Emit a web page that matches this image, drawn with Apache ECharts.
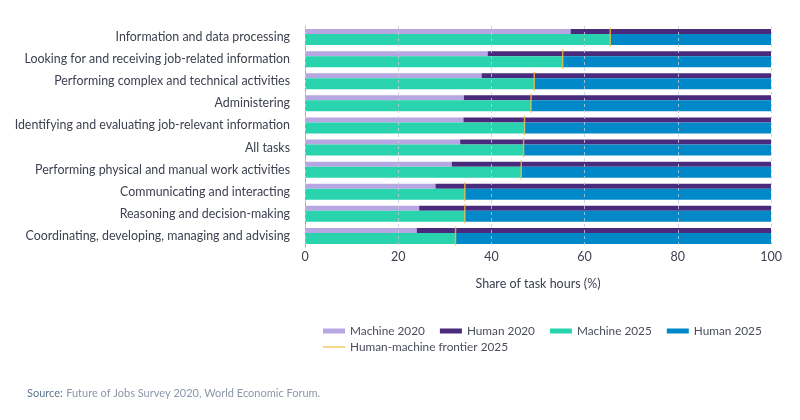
<!DOCTYPE html>
<html>
<head>
<meta charset="utf-8">
<script src="https://cdn.jsdelivr.net/npm/echarts@6/dist/echarts.min.js"></script>
<style>html,body{margin:0;padding:0;background:#fff}#c{width:800px;height:420px}</style>
</head>
<body>
<div id="c"></div>
<script>
const categories = [
  "Information and data processing",
  "Looking for and receiving job-related information",
  "Performing complex and technical activities",
  "Administering",
  "Identifying and evaluating job-relevant information",
  "All tasks",
  "Performing physical and manual work activities",
  "Communicating and interacting",
  "Reasoning and decision-making",
  "Coordinating, developing, managing and advising"
];
const machine2020 = [57.0, 39.2, 37.9, 34.1, 34.0, 33.3, 31.5, 28.0, 24.5, 24.0];
const human2020   = [43.0, 60.8, 62.1, 65.9, 66.0, 66.7, 68.5, 72.0, 75.5, 76.0];
const machine2025 = [65.5, 55.3, 49.2, 48.5, 47.1, 46.9, 46.4, 34.3, 34.3, 32.3];
const human2025   = [34.5, 44.7, 50.8, 51.5, 52.9, 53.1, 53.6, 65.7, 65.7, 67.7];
const frontier2025 = [65.5, 55.3, 49.2, 48.5, 47.1, 46.9, 46.4, 34.3, 34.3, 32.3];
const xTicks = [0, 20, 40, 60, 80, 100];

const FONT = 'Lato';
const chart = echarts.init(document.getElementById('c'), null, {renderer: 'canvas'});
chart.setOption({
  animation: false,
  textStyle: {fontFamily: FONT},
  grid: {left: 305, right: 29, top: 26, bottom: 173},
  xAxis: {
    type: 'value', min: xTicks[0], max: xTicks[xTicks.length - 1], interval: 20,
    z: 5,
    axisLine: {show: false}, axisTick: {show: false},
    splitLine: {show: true, lineStyle: {color: '#c8ccd4', type: [3, 3], width: 1, opacity: 0.8}},
    axisLabel: {color: '#3d4150', fontSize: 12.5, fontFamily: FONT, margin: 3},
    name: 'Share of task hours (%)', nameLocation: 'middle', nameGap: 30,
    nameTextStyle: {color: '#3d4150', fontSize: 12.5, fontFamily: FONT}
  },
  yAxis: {
    type: 'category', data: categories, inverse: true,
    axisLine: {show: true, lineStyle: {color: '#a0a4ac', width: 1}},
    axisTick: {show: false},
    axisLabel: {color: '#3d4150', fontSize: 12.4, fontFamily: FONT, margin: 15}
  },
  legend: [{
    left: 318, top: 320, itemWidth: 22, itemHeight: 5, itemGap: 15,
    icon: 'rect',
    textStyle: {color: '#4a4e5c', fontSize: 11.8, fontFamily: FONT},
    data: ['Machine 2020', 'Human 2020', 'Machine 2025', 'Human 2025']
  }, {
    left: 318, top: 336, itemWidth: 22, itemHeight: 1.5,
    icon: 'rect',
    textStyle: {color: '#4a4e5c', fontSize: 11.8, fontFamily: FONT},
    data: ['Human-machine frontier 2025']
  }],
  series: [
    {name: 'Machine 2020', type: 'bar', stack: 'y2020', barWidth: 5, barGap: '0%',
     itemStyle: {color: '#b6a6e2'}, data: machine2020},
    {name: 'Human 2020', type: 'bar', stack: 'y2020', barWidth: 5, barGap: '0%',
     itemStyle: {color: '#4a2a7c'}, data: human2020},
    {name: 'Machine 2025', type: 'bar', stack: 'y2025', barWidth: 11, barGap: '0%',
     itemStyle: {color: '#28d3ae'}, data: machine2025},
    {name: 'Human 2025', type: 'bar', stack: 'y2025', barWidth: 11, barGap: '0%',
     itemStyle: {color: '#0088c8'}, data: human2025},
    {name: 'Human-machine frontier 2025', type: 'scatter', symbol: 'rect', symbolSize: [1.5, 19],
     z: 10, itemStyle: {color: '#f2bd3c'},
     data: frontier2025.map((v, i) => [v, categories[i]])}
  ],
  graphic: [{
    type: 'text', left: 27, top: 387,
    style: {
      text: '{a|Source:} {b|Future of Jobs Survey 2020, World Economic Forum.}',
      rich: {
        a: {fill: '#5f7590', fontSize: 11, fontFamily: FONT},
        b: {fill: '#8c96a8', fontSize: 11, fontFamily: FONT}
      }
    }
  }]
});
</script>
</body>
</html>
